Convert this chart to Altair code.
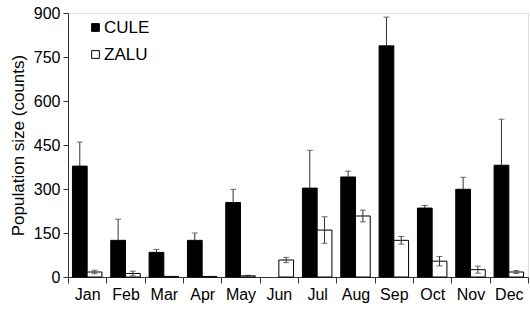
import altair as alt
import pandas as pd

months = ["Jan", "Feb", "Mar", "Apr", "May", "Jun", "Jul", "Aug", "Sep", "Oct", "Nov", "Dec"]
cule = [378, 125, 84, 125, 254, 0, 303, 341, 788, 235, 299, 381]
cule_err = [82, 72, 10, 25, 45, 0, 129, 20, 98, 9, 41, 157]
zalu = [17, 12, 2, 2, 4, 58, 160, 208, 125, 54, 25, 17]
zalu_err = [6, 8, 0, 0, 2, 9, 45, 20, 13, 16, 12, 5]
species = ["CULE", "ZALU"]
y_ticks = [0, 150, 300, 450, 600, 750, 900]

rows = []
for i, m in enumerate(months):
    rows.append({"month": m, "sp": "CULE", "v": cule[i], "lo": cule[i], "hi": cule[i] + cule_err[i], "e": cule_err[i]})
    rows.append({"month": m, "sp": "ZALU", "v": zalu[i], "lo": zalu[i] - zalu_err[i], "hi": zalu[i] + zalu_err[i], "e": zalu_err[i]})
df = pd.DataFrame(rows)
bar_df = df[df["v"] > 0]
err_df = df[df["e"] > 0]
lo_caps = err_df[err_df["sp"] == "ZALU"]

FONT = "Liberation Sans"
xenc = alt.X("month:N", sort=months, scale=alt.Scale(domain=months, paddingInner=0, paddingOuter=0),
             axis=alt.Axis(title=None, labelAngle=0, tickBand="extent", tickSize=6,
                           labelFontSize=16, labelPadding=3, labelColor="black",
                           domainColor="#333", tickColor="#333", labelFont=FONT))
xoff = alt.XOffset("sp:N", sort=species, scale=alt.Scale(domain=species, paddingInner=0, paddingOuter=0.3))
yscale = alt.Scale(domain=[0, 900], nice=False)

bars = alt.Chart(bar_df).mark_bar(stroke="black", strokeWidth=1).encode(
    x=xenc,
    xOffset=xoff,
    y=alt.Y("v:Q", scale=yscale,
            axis=alt.Axis(title="Population size (counts)", values=y_ticks, grid=False,
                          tickSize=5, labelFontSize=16, labelPadding=3, labelColor="black",
                          domainColor="#333", tickColor="#333", labelFont=FONT,
                          titleFont=FONT, titleFontSize=17, titleFontWeight="normal",
                          titleColor="black", titlePadding=6)),
    color=alt.Color("sp:N", sort=species,
                    scale=alt.Scale(domain=species, range=["black", "white"]),
                    legend=alt.Legend(title=None, orient="none", legendX=19, legendY=6,
                                      symbolType="square", symbolSize=60,
                                      symbolStrokeColor="black", symbolStrokeWidth=1,
                                      labelFontSize=17, labelFont=FONT, labelColor="black",
                                      rowPadding=9, labelOffset=0)),
)

rules = alt.Chart(err_df).mark_rule(color="#333", strokeWidth=1).encode(
    x=alt.X("month:N", sort=months), xOffset=xoff,
    y=alt.Y("lo:Q", scale=yscale), y2="hi:Q")

caps_hi = alt.Chart(err_df).mark_tick(color="#333", size=6, thickness=1, orient="horizontal").encode(
    x=alt.X("month:N", sort=months), xOffset=xoff,
    y=alt.Y("hi:Q", scale=yscale))

caps_lo = alt.Chart(lo_caps).mark_tick(color="#333", size=6, thickness=1, orient="horizontal").encode(
    x=alt.X("month:N", sort=months), xOffset=xoff,
    y=alt.Y("lo:Q", scale=yscale))

chart = alt.layer(bars, rules, caps_hi, caps_lo).properties(
    width=460, height=264,
    autosize=alt.AutoSizeParams(type="none"),
    padding={"left": 68, "top": 13, "right": 2, "bottom": 33},
).configure_view(stroke=None).configure(background="white")

chart.save("out.html", embed_options={"renderer": "svg", "actions": False})
